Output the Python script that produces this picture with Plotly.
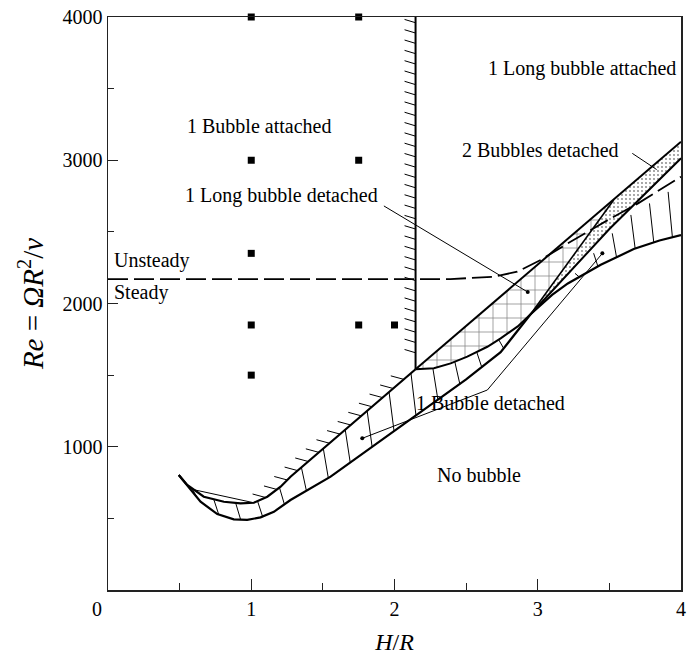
import numpy as np
import plotly.graph_objects as go

# ---------------- data (H/R, Re) ----------------
pts_x = [1, 1, 1, 1, 1, 1.75, 1.75, 1.75, 2]
pts_re = [4000, 3000, 2350, 1850, 1500, 4000, 3000, 1850, 1850]

# lower boundary of the band (no bubble limit)
low_x = [0.494, 0.646, 0.763, 0.878, 0.972, 1.065, 1.158, 1.228, 1.274, 1.554, 2.0, 2.5, 2.741, 2.95]
low_re = [803, 616, 530, 493, 489, 507, 546, 593, 628, 791, 1110, 1470, 1660, 1925]
low2_x = [2.95, 3.1, 3.21, 3.44, 3.67, 3.85, 4.0]
low2_re = [1925, 2060, 2140, 2270, 2380, 2440, 2478]

# upper boundary of the band (bubble attached limit)
up_x = [0.494, 0.553, 0.669, 0.809, 0.925, 1.018, 1.112, 1.205, 1.274, 1.6, 1.9, 2.147]
up_re = [803, 733, 651, 616, 605, 609, 651, 721, 791, 1071, 1329, 1541]

# vertical boundary
vert_x = [2.147, 2.147]
vert_re = [1541, 4000]

# upper line of the long bubble region
top_x = [2.147, 4.0]
top_re = [1541, 3129]

# lower curve of the long-bubble-detached region
c1_x = [2.147, 2.275, 2.392, 2.508, 2.648, 2.741, 2.86, 2.95]
c1_re = [1541, 1548, 1582, 1629, 1698, 1757, 1840, 1925]

# edges of the 2-bubbles strip
d1_x = [2.95, 3.53]
d1_re = [1925, 2722]
d2_x = [2.95, 3.5, 4.0]
d2_re = [1925, 2520, 3014]

# steady / unsteady boundary
dash_x = [0, 1.0, 2.0, 2.39, 2.69, 2.857, 3.02, 3.21, 3.49, 3.70, 4.0]
dash_re = [2170, 2170, 2170, 2170, 2187, 2222, 2304, 2420, 2583, 2699, 2885]

# thin chord near the left tip
chord_x = [0.60, 1.018]
chord_re = [700, 609]

# leader lines and their end dots
lead1_x = [1.775, 2.648, 3.451]
lead1_re = [1059, 1396, 2350]
lead2_x = [1.926, 2.93]
lead2_re = [2681, 2080]
lead3_x = [3.66, 3.83]
lead3_re = [3048, 2935]
dots_x = [1.775, 3.451, 2.93]
dots_re = [1059, 2350, 2080]

# region labels
lab_text = ["1 Long bubble attached", "1 Bubble attached", "2 Bubbles detached",
            "1 Long bubble detached", "1 Bubble detached", "No bubble"]
lab_x = [3.31, 1.055, 3.02, 1.21, 2.67, 2.59]
lab_re = [3644, 3239, 3075, 2757, 1305, 803]

FONT = "Liberation Serif, Times New Roman, serif"
PXX = 143.25        # pixels per unit H/R
PXY = 573 / 4000    # pixels per unit Re

fig = go.Figure()


def line(x, y, w=2.0, dash=None, color="black"):
    fig.add_trace(go.Scatter(x=x, y=y, mode="lines", hoverinfo="skip", showlegend=False,
                             line=dict(color=color, width=w, dash=dash)))


# ---- filled pattern regions ----
t_at = float(np.interp(d1_x[-1], top_x, top_re))
ch_x = [top_x[0], d1_x[-1]] + d1_x[::-1][1:] + c1_x[::-1]
ch_re = [top_re[0], t_at] + d1_re[::-1][1:] + c1_re[::-1]
fig.add_trace(go.Scatter(x=ch_x, y=ch_re, mode="lines", fill="toself", line=dict(width=0),
                         fillcolor="rgba(0,0,0,0)", showlegend=False, hoverinfo="skip",
                         fillpattern=dict(shape="+", size=14, solidity=0.1, fgcolor="black",
                                          bgcolor="rgba(0,0,0,0)")))
st_x = d1_x + [top_x[-1]] + d2_x[::-1]
st_re = d1_re + [top_re[-1]] + d2_re[::-1]
fig.add_trace(go.Scatter(x=st_x, y=st_re, mode="lines", fill="toself", line=dict(width=0),
                         fillcolor="rgba(0,0,0,0)", showlegend=False, hoverinfo="skip",
                         fillpattern=dict(shape=".", size=4, solidity=0.16, fgcolor="black",
                                          bgcolor="rgba(0,0,0,0)")))

# ---- hatch lines across the band (1 bubble detached) ----
hx, hy = [], []
upper_x = up_x + c1_x[1:]
upper_re = up_re + c1_re[1:]
for xv in np.arange(0.585, 2.9, 0.153):
    t = np.interp(xv, upper_x, upper_re)
    b = np.interp(xv + 0.035, low_x, low_re)
    if t > b + 30:
        hx += [xv, xv + 0.035, None]
        hy += [t, b, None]
for xv in np.arange(3.13, 4.0, 0.13):
    t = min(np.interp(xv, dash_x, dash_re), np.interp(xv, d2_x, d2_re)) - 50
    b = np.interp(xv + 0.03, low2_x, low2_re)
    if t > b + 20:
        hx += [xv, xv + 0.03, None]
        hy += [t, b, None]
line(hx, hy, w=1)

# ---- hatch marks on the attached boundary ----
mx, my = [], []
xs = np.linspace(1.10, 2.147, 600)
rs = np.interp(xs, up_x, up_re)
arc = np.concatenate([[0], np.cumsum(np.hypot(np.diff(xs * PXX), np.diff(rs * PXY)))])
for s in np.arange(0, arc[-1] - 5, 14.0):
    xv = np.interp(s, arc, xs)
    rv = np.interp(s, arc, rs)
    mx += [xv - 13 / PXX, xv, None]
    my += [rv + 3.5 / PXY, rv, None]
for rv in np.arange(3960, 1600, -72):
    mx += [vert_x[0] - 11 / PXX, vert_x[0], None]
    my += [rv + 3.3 / PXY, rv, None]
line(mx, my, w=1)

# ---- boundaries ----
line(low_x, low_re, 2.2)
line(low2_x, low2_re, 2.2)
line(up_x, up_re, 2.2)
line(vert_x, vert_re, 2.0)
line(top_x, top_re, 2.0)
line(c1_x, c1_re, 2.0)
line(d1_x, d1_re, 1.6)
line(d2_x, d2_re, 2.0)
line(chord_x, chord_re, 1.0)
line(dash_x, dash_re, 1.8, dash="20px,6px")

# leaders
line(lead1_x, lead1_re, 1.0)
line(lead2_x, lead2_re, 1.0)
line(lead3_x, lead3_re, 1.0)
fig.add_trace(go.Scatter(x=dots_x, y=dots_re, mode="markers", showlegend=False, hoverinfo="skip",
                         marker=dict(color="black", size=4)))

# experimental points
fig.add_trace(go.Scatter(x=pts_x, y=pts_re, mode="markers", showlegend=False, hoverinfo="skip",
                         cliponaxis=False,
                         marker=dict(symbol="square", color="black", size=7)))

# labels
for t, x, y in zip(lab_text, lab_x, lab_re):
    fig.add_annotation(x=x, y=y, text=t, showarrow=False, xanchor="center", yanchor="middle",
                       font=dict(family=FONT, size=20, color="black"))
fig.add_annotation(x=0.03, y=2300, text="Unsteady", showarrow=False, xanchor="left",
                   yanchor="middle", font=dict(family=FONT, size=20, color="black"))
fig.add_annotation(x=0.03, y=2080, text="Steady", showarrow=False, xanchor="left",
                   yanchor="middle", font=dict(family=FONT, size=20, color="black"))
fig.add_annotation(x=-0.02, xref="paper", y=0, yref="paper", yshift=-19, text="0",
                   showarrow=False, xanchor="center", yanchor="middle",
                   font=dict(family=FONT, size=20, color="black"))

axis_common = dict(showgrid=False, zeroline=False, showline=True, linecolor="#222",
                   linewidth=1.5, mirror=True, ticks="inside", tickcolor="#222",
                   automargin=False, ticklabeloverflow="allow",
                   tickfont=dict(family=FONT, size=20, color="black"))

fig.update_layout(
    width=690, height=658,
    margin=dict(l=108, r=9, t=17, b=68),
    paper_bgcolor="white", plot_bgcolor="white",
    hovermode=False,
    xaxis=dict(range=[0, 4], tickmode="array", tickvals=[1, 2, 3, 4], ticklen=11, tickwidth=1,
               minor=dict(tickmode="array", tickvals=[0.5, 1.5, 2.5, 3.5], ticks="inside",
                          ticklen=7, tickwidth=1, tickcolor="#222"),
               title=dict(text="<i>H</i>/<i>R</i>", font=dict(family=FONT, size=24, color="black"),
                          standoff=14),
               **axis_common),
    yaxis=dict(range=[0, 4000], tickmode="array", tickvals=[1000, 2000, 3000, 4000],
               ticklen=10, tickwidth=1,
               minor=dict(tickmode="array", tickvals=[500, 1500, 2500, 3500], ticks="inside",
                          ticklen=6, tickwidth=1, tickcolor="#222"),
               title=dict(text="<i>Re</i>\u00a0=\u00a0<i>ΩR</i><sup>2</sup>/<i>ν</i>",
                          font=dict(family=FONT, size=29, color="black"), standoff=10),
               **axis_common),
)

# place the figure flush with the page corner (no default body margin), no mode bar
fig.write_html("out.html", config={"displayModeBar": False, "staticPlot": True},
               post_script="document.body.style.margin='0px';")
